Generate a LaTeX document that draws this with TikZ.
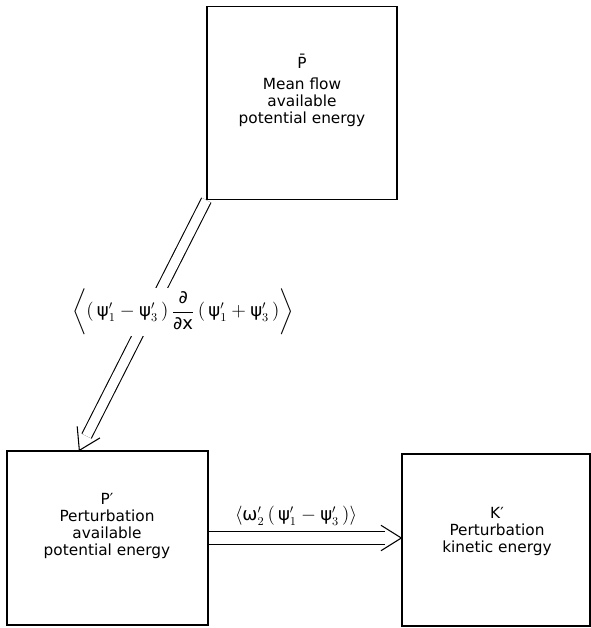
\documentclass[tikz,border=0pt]{standalone}
\usepackage{amsmath}
\usepackage{fontspec}
\setmainfont{DejaVu Sans}
\usetikzlibrary{positioning, calc, backgrounds}

\newcommand{\gpsi}{\text{ψ}}
\newcommand{\gomega}{\text{ω}}
\newcommand{\gpartial}{\text{∂}}

\begin{document}
\begin{tikzpicture}[x=0.75pt, y=-0.75pt,
    enbox/.style={draw, line width=1pt, fill=white, inner sep=0pt},
    boxtext/.style={align=center, font=\fontsize{11.5}{12.75}\selectfont},
    flux/.style={font=\fontsize{13.5}{15}\selectfont, inner sep=1pt},
    flow/.style={line width=0.8pt, double, double distance=7pt, shorten >=12pt},
    barb/.style={line width=0.8pt}
  ]
  \useasboundingbox (0,0) rectangle (591,628);

  % --- energy reservoirs ---
  \node[enbox, minimum width=190*0.75pt, minimum height=193*0.75pt] (pbar) at (302,103) {};
  \node[enbox, minimum width=201*0.75pt, minimum height=174*0.75pt] (pp) at (107.5,538) {};
  \node[enbox, minimum width=188*0.75pt, minimum height=172*0.75pt] (kp) at (496,540) {};

  \node[boxtext] (pbartxt) at (302,90) {\={P}\\[3pt] Mean flow\\ available\\ potential energy};
  \node[boxtext] (pptxt) at (107,526) {P′\\ Perturbation\\ available\\ potential energy};
  \node[boxtext] (kptxt) at (497,531) {K′\\ Perturbation\\ kinetic energy};

  % --- conversions ---
  \coordinate (pptip) at ($(pp.north west)+(73,0)$);
  \coordinate (kptip) at (pp.east -| kp.west);
  \begin{scope}[on background layer]
    \draw[flow] (pbar.south west) -- (pptip);
    \draw[flow, double distance=9pt] (pp.east) -- (kptip);
  \end{scope}
  \draw[barb] ($(pptip)!18pt!32:(pbar.south west)$) -- (pptip)
              -- ($(pptip)!18pt!-32:(pbar.south west)$);
  \draw[barb] ($(kptip)!18pt!32:(pp.east)$) -- (kptip)
              -- ($(kptip)!18pt!-32:(pp.east)$);

  \node[flux, fill=white] (convA) at (183,312)
       {$\left\langle(\,\gpsi'_1-\gpsi'_3\,)\,\dfrac{\gpartial}{\gpartial\mathrm{x}}\,(\,\gpsi'_1+\gpsi'_3\,)\right\rangle$};
  \node[flux] (convB) at (296,516) {$\langle\gomega'_2\,(\,\gpsi'_1-\gpsi'_3\,)\rangle$};
\end{tikzpicture}
\end{document}
